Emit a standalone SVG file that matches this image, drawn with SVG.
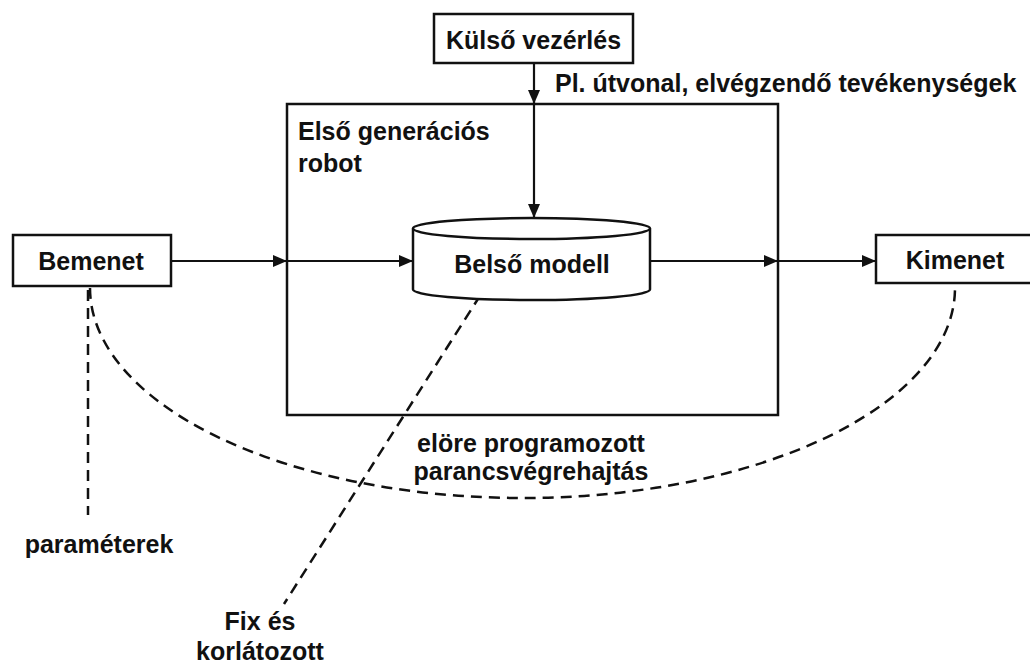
<svg xmlns="http://www.w3.org/2000/svg" width="1030" height="664" viewBox="0 0 1030 664">
<defs>
<style>
.box{fill:#fff;stroke:#111;stroke-width:2.5}
.frame{fill:none;stroke:#111;stroke-width:2.5}
.t{font-family:"Liberation Sans",Arial,sans-serif;font-weight:bold;font-size:25px;fill:#111}
.c{text-anchor:middle}
.arr{stroke:#111;stroke-width:2.2;fill:none;marker-end:url(#ah)}
.dash{stroke:#111;stroke-width:2.5;fill:none;stroke-dasharray:11 7}
</style>
<marker id="ah" markerUnits="userSpaceOnUse" markerWidth="14" markerHeight="12" refX="14" refY="6" orient="auto">
<path d="M0,0 L14,6 L0,12 z" fill="#111"/>
</marker>
</defs>
<rect width="1030" height="664" fill="#fff"/>

<g id="robot">
<rect class="frame" x="287" y="104" width="491" height="311"/>
<text class="t" x="298" y="140">Első generációs</text>
<text class="t" x="298" y="172">robot</text>
</g>

<g id="connectors">
<line class="arr" x1="171" y1="261" x2="287" y2="261"/>
<line class="arr" x1="287" y1="261" x2="413" y2="261"/>
<line class="arr" x1="650" y1="261" x2="778" y2="261"/>
<line class="arr" x1="778" y1="261" x2="876" y2="261"/>
<line class="arr" x1="534" y1="63" x2="534" y2="104"/>
<line class="arr" x1="534" y1="104" x2="534" y2="218"/>
<path class="dash" d="M90 288 A432.5 210 0 0 0 955 288"/>
<line class="dash" x1="88" y1="290" x2="88" y2="515"/>
<line class="dash" x1="490" y1="280" x2="284" y2="604"/>
</g>

<g id="kulso">
<rect class="box" x="434" y="14" width="199" height="49"/>
<text class="t c" x="533.5" y="49">Külső vezérlés</text>
</g>
<text class="t" x="555" y="92">Pl. útvonal, elvégzendő tevékenységek</text>

<g id="bemenet">
<rect class="box" x="13" y="235" width="158" height="51"/>
<text class="t c" x="91" y="270">Bemenet</text>
</g>

<g id="kimenet">
<rect class="box" x="876" y="235" width="158" height="48"/>
<text class="t c" x="955" y="269">Kimenet</text>
</g>

<g id="belso">
<path class="box" d="M413 228.5 V289.5 A118.5 10.5 0 0 0 650 289.5 V228.5"/>
<ellipse class="box" cx="531.5" cy="228.5" rx="118.5" ry="10.5"/>
<text class="t c" x="532" y="273">Belső modell</text>
</g>

<g id="labels">
<text class="t c" x="531" y="452">elöre programozott</text>
<text class="t c" x="531" y="480">parancsvégrehajtás</text>
<text class="t c" x="99" y="553">paraméterek</text>
<text class="t c" x="260" y="630">Fix és</text>
<text class="t c" x="260" y="660">korlátozott</text>
</g>
</svg>
